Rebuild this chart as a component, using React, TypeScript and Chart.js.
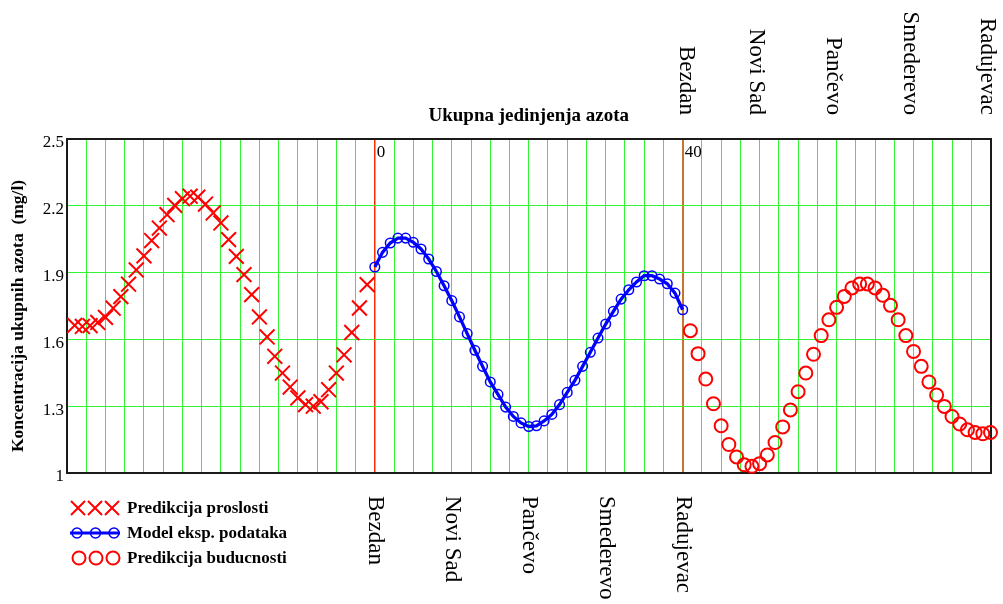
import React, { useEffect, useRef } from 'react';
import { Chart, registerables } from 'chart.js';

Chart.register(...registerables);

const FONT = '"Liberation Serif", "Times New Roman", serif';

// ---- data ----
const pastX = [-39, -38, -37, -36, -35, -34, -33, -32, -31, -30, -29, -28, -27, -26, -25, -24, -23, -22, -21, -20, -19, -18, -17, -16, -15, -14, -13, -12, -11, -10, -9, -8, -7, -6, -5, -4, -3, -2, -1];
const pastY = [1.663, 1.658, 1.662, 1.676, 1.699, 1.74, 1.792, 1.848, 1.912, 1.975, 2.044, 2.1, 2.16, 2.202, 2.232, 2.243, 2.239, 2.208, 2.168, 2.123, 2.048, 1.973, 1.891, 1.801, 1.701, 1.611, 1.524, 1.449, 1.386, 1.337, 1.307, 1.3, 1.32, 1.374, 1.449, 1.531, 1.631, 1.741, 1.846];

const modelX = [0, 1, 2, 3, 4, 5, 6, 7, 8, 9, 10, 11, 12, 13, 14, 15, 16, 17, 18, 19, 20, 21, 22, 23, 24, 25, 26, 27, 28, 29, 30, 31, 32, 33, 34, 35, 36, 37, 38, 39, 40];
const modelY = [1.925, 1.991, 2.033, 2.055, 2.055, 2.036, 2.006, 1.961, 1.905, 1.841, 1.774, 1.701, 1.626, 1.551, 1.479, 1.409, 1.353, 1.296, 1.254, 1.225, 1.209, 1.212, 1.234, 1.263, 1.307, 1.362, 1.416, 1.479, 1.542, 1.606, 1.669, 1.726, 1.781, 1.823, 1.858, 1.886, 1.886, 1.871, 1.85, 1.808, 1.733];

const futureX = [41, 42, 43, 44, 45, 46, 47, 48, 49, 50, 51, 52, 53, 54, 55, 56, 57, 58, 59, 60, 61, 62, 63, 64, 65, 66, 67, 68, 69, 70, 71, 72, 73, 74, 75, 76, 77, 78, 79, 80];
const futureY = [1.639, 1.536, 1.422, 1.311, 1.212, 1.128, 1.072, 1.037, 1.03, 1.042, 1.081, 1.137, 1.207, 1.283, 1.365, 1.449, 1.533, 1.617, 1.688, 1.744, 1.793, 1.831, 1.849, 1.849, 1.831, 1.798, 1.753, 1.688, 1.617, 1.546, 1.479, 1.409, 1.35, 1.299, 1.254, 1.22, 1.194, 1.182, 1.176, 1.182];

const yTicks = [1, 1.3, 1.6, 1.9, 2.2, 2.5];
const yTickLabels = ['1', '1.3', '1.6', '1.9', '2.2', '2.5'];
const axisMarks = [0, 40];
const stations = ['Bezdan', 'Novi Sad', 'Pančevo', 'Smederevo', 'Radujevac'];
const bottomStationX = [0, 10, 20, 30, 40];
const topStationX = [40.5, 49.5, 59.5, 69.5, 79.5];
const seriesNames = ['Predikcija proslosti', 'Model eksp. podataka', 'Predikcija buducnosti'];
const xTitle = 'Ukupna jedinjenja azota';
const yTitle = 'Koncentracija ukupnih azota  (mg/l)';

const GREEN = 'rgb(50,245,50)';
const RED = '#ff0000';
const BLUE = '#0000ff';
const BORDER = '#1a1a1a';

const toPoints = (xs: number[], ys: number[]) => xs.map((x, i) => ({ x, y: ys[i] }));

const overlayPlugin = {
  id: 'overlay',
  afterDraw(chart: any) {
    const { ctx, chartArea, scales } = chart;
    const xs = scales.x;
    ctx.save();
    ctx.fillStyle = '#000';

    // axis marks inside top of plot
    ctx.font = `17px ${FONT}`;
    ctx.textAlign = 'left';
    ctx.textBaseline = 'alphabetic';
    axisMarks.forEach((v) => ctx.fillText(String(v), xs.getPixelForValue(v) + 2, chartArea.top + 18));

    // station labels (rotated clockwise)
    ctx.font = `23px ${FONT}`;
    bottomStationX.forEach((v, i) => {
      ctx.save();
      ctx.translate(xs.getPixelForValue(v), chartArea.bottom + 23);
      ctx.rotate(Math.PI / 2);
      ctx.textAlign = 'left';
      ctx.textBaseline = 'middle';
      ctx.fillText(stations[i], 0, 0);
      ctx.restore();
    });
    topStationX.forEach((v, i) => {
      ctx.save();
      ctx.translate(xs.getPixelForValue(v), 115);
      ctx.rotate(Math.PI / 2);
      ctx.textAlign = 'right';
      ctx.textBaseline = 'middle';
      ctx.fillText(stations[i], 0, 0);
      ctx.restore();
    });

    // y axis title
    ctx.save();
    ctx.translate(18, 316);
    ctx.rotate(-Math.PI / 2);
    ctx.font = `bold 17.5px ${FONT}`;
    ctx.textAlign = 'center';
    ctx.textBaseline = 'middle';
    ctx.fillText(yTitle, 0, 0);
    ctx.restore();

    // legend
    const rowsY = [508, 533, 558];
    const textX = 127;
    ctx.strokeStyle = RED;
    ctx.lineWidth = 2;
    [78, 95, 112].forEach((cx) => {
      const cy = rowsY[0];
      const h = 7;
      ctx.beginPath();
      ctx.moveTo(cx - h, cy - h);
      ctx.lineTo(cx + h, cy + h);
      ctx.moveTo(cx + h, cy - h);
      ctx.lineTo(cx - h, cy + h);
      ctx.stroke();
    });
    ctx.strokeStyle = BLUE;
    ctx.lineWidth = 3;
    ctx.beginPath();
    ctx.moveTo(70, rowsY[1]);
    ctx.lineTo(120, rowsY[1]);
    ctx.stroke();
    ctx.lineWidth = 1.5;
    [77, 95.5, 114].forEach((cx) => {
      ctx.beginPath();
      ctx.arc(cx, rowsY[1], 5, 0, Math.PI * 2);
      ctx.stroke();
    });
    ctx.strokeStyle = RED;
    ctx.lineWidth = 2;
    [79, 96, 113].forEach((cx) => {
      ctx.beginPath();
      ctx.arc(cx, rowsY[2], 6.5, 0, Math.PI * 2);
      ctx.stroke();
    });
    ctx.font = `bold 17px ${FONT}`;
    ctx.textAlign = 'left';
    ctx.textBaseline = 'alphabetic';
    seriesNames.forEach((name, i) => ctx.fillText(name, textX, rowsY[i] + 5));

    ctx.restore();
  },
};

export default function App() {
  const ref = useRef<HTMLCanvasElement>(null);

  useEffect(() => {
    const canvas = ref.current;
    if (!canvas) return;
    const chart = new Chart(canvas, {
      type: 'scatter',
      data: {
        datasets: [
          {
            label: seriesNames[0],
            data: toPoints(pastX, pastY),
            showLine: false,
            pointStyle: 'crossRot',
            pointRadius: 10.5,
            pointBorderWidth: 2,
            borderColor: RED,
            backgroundColor: RED,
            clip: false,
          },
          {
            label: seriesNames[1],
            data: toPoints(modelX, modelY),
            showLine: true,
            borderColor: BLUE,
            borderWidth: 3.3,
            tension: 0,
            pointStyle: 'circle',
            pointRadius: 4.8,
            pointBorderWidth: 1.5,
            pointBorderColor: BLUE,
            pointBackgroundColor: 'rgba(0,0,0,0)',
            clip: false,
          },
          {
            label: seriesNames[2],
            data: toPoints(futureX, futureY),
            showLine: false,
            pointStyle: 'circle',
            pointRadius: 6.5,
            pointBorderWidth: 2,
            borderColor: RED,
            pointBackgroundColor: 'rgba(0,0,0,0)',
            clip: false,
          },
        ] as any,
      },
      options: {
        animation: false,
        responsive: false,
        devicePixelRatio: 1,
        events: [],
        layout: { padding: 0 },
        plugins: {
          legend: { display: false },
          tooltip: { enabled: false },
          title: { display: false },
        },
        scales: {
          x: {
            type: 'linear',
            position: 'bottom',
            min: -40,
            max: 80,
            ticks: { display: false, stepSize: 2.5, autoSkip: false, maxTicksLimit: 1000 },
            grid: {
              drawTicks: false,
              color: (c: any) => (c.tick && c.tick.value === 0 ? '#ff2a00' : c.tick && c.tick.value === 40 ? '#c8742e' : GREEN),
              lineWidth: (c: any) => (c.tick && c.tick.value === 0 ? 1.5 : c.tick && c.tick.value === 40 ? 2 : 1),
            },
            border: { display: true, color: BORDER, width: 2 },
            afterFit: (s: any) => {
              s.height = 131;
            },
          },
          x2: {
            type: 'linear',
            position: 'top',
            min: -40,
            max: 80,
            ticks: { display: false },
            grid: { display: false, drawTicks: false },
            border: { display: true, color: BORDER, width: 2 },
            title: {
              display: true,
              text: xTitle,
              color: '#000',
              font: { family: FONT, size: 19, weight: 'bold', lineHeight: 1.2 },
              padding: { top: 104.6, bottom: 0 },
            },
            afterFit: (s: any) => {
              s.height = 139;
            },
          },
          y: {
            type: 'linear',
            position: 'left',
            min: 1,
            max: 2.5,
            afterBuildTicks: (s: any) => {
              s.ticks = yTicks.map((v) => ({ value: v }));
            },
            ticks: {
              callback: (_v: any, i: number) => yTickLabels[i],
              font: { family: FONT, size: 17 },
              color: '#000',
              padding: 3,
              labelOffset: 4,
            },
            grid: { drawTicks: false, color: GREEN, lineWidth: 1 },
            border: { display: true, color: BORDER, width: 2 },
            afterFit: (s: any) => {
              s.width = 67;
            },
          },
          y2: {
            type: 'linear',
            position: 'right',
            min: 1,
            max: 2.5,
            ticks: { display: false },
            grid: { display: false, drawTicks: false },
            border: { display: true, color: BORDER, width: 2 },
            afterFit: (s: any) => {
              s.width = 8;
            },
          },
        },
      } as any,
      plugins: [overlayPlugin],
    });
    return () => chart.destroy();
  }, []);

  return (
    <div style={{ position: 'fixed', left: 0, top: 0, width: 1003, height: 604, background: '#fff' }}>
      <canvas ref={ref} width={1003} height={604} style={{ display: 'block', width: 1003, height: 604 }} />
    </div>
  );
}
